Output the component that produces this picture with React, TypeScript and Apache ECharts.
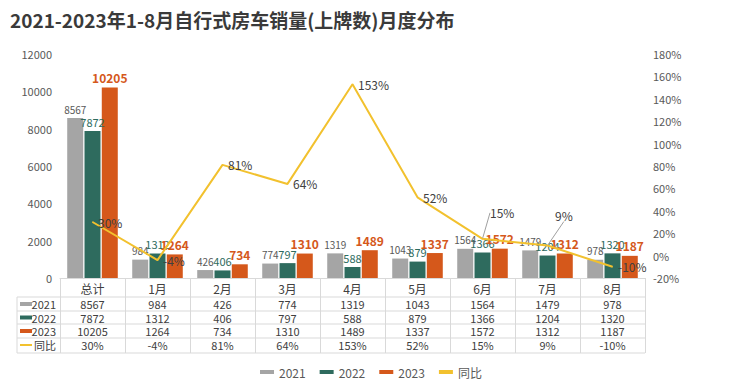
import React, { useEffect, useRef } from "react";
import * as echarts from "echarts";

const title = "2021-2023年1-8月自行式房车销量(上牌数)月度分布";
const categories = ["总计", "1月", "2月", "3月", "4月", "5月", "6月", "7月", "8月"];
const seriesNames = ["2021", "2022", "2023", "同比"];
const sales2021 = [8567, 984, 426, 774, 1319, 1043, 1564, 1479, 978];
const sales2022 = [7872, 1312, 406, 797, 588, 879, 1366, 1204, 1320];
const sales2023 = [10205, 1264, 734, 1310, 1489, 1337, 1572, 1312, 1187];
const yoyPct = [30, -4, 81, 64, 153, 52, 15, 9, -10];

const COLORS = ["#a5a5a5", "#2e6b5e", "#d5581b", "#f2c12e"];
const FONT = "'Noto Sans CJK SC', 'Noto Sans', sans-serif";

// table geometry (styling only)
const GRID_LEFT = 60;
const GRID_RIGHT_X = 645;
const AXIS_Y = 278;
const ROW_LINES = [297, 311, 324, 338, 353];
const ROW_CENTERS = [304, 317.5, 331, 345];
const ROW_OFFSETS = [19, 33, 46, 60];

export default function App() {
  const ref = useRef<HTMLDivElement>(null);
  useEffect(() => {
    document.body.style.margin = "0";
    if (!ref.current) return;
    const chart = echarts.init(ref.current, null, { renderer: "svg" });

    const tableRows = [
      sales2021.map(String),
      sales2022.map(String),
      sales2023.map(String),
      yoyPct.map((v) => `${v}%`),
    ];

    const tableAxes = tableRows.map((vals, i) => ({
      type: "category",
      gridIndex: 0,
      position: "bottom",
      offset: ROW_OFFSETS[i],
      data: vals,
      axisLine: { show: false },
      axisTick: { show: false },
      axisLabel: {
        interval: 0,
        margin: 1,
        color: "#404040",
        fontSize: 11,
        fontFamily: FONT,
      },
    }));

    const graphics: any[] = [
      {
        type: "text",
        left: 10,
        top: 10,
        style: {
          text: title,
          fontSize: 19,
          fontWeight: "bold",
          fill: "#3a3a3a",
          fontFamily: FONT,
        },
      },
    ];
    ROW_LINES.forEach((y) => {
      graphics.push({
        type: "line",
        shape: { x1: 17, y1: y, x2: GRID_RIGHT_X, y2: y },
        style: { stroke: "#d9d9d9", lineWidth: 1 },
        silent: true,
      });
    });
    graphics.push({
      type: "line",
      shape: { x1: 17, y1: ROW_LINES[0], x2: 17, y2: ROW_LINES[ROW_LINES.length - 1] },
      style: { stroke: "#d9d9d9", lineWidth: 1 },
      silent: true,
    });
    seriesNames.forEach((name, i) => {
      const cy = ROW_CENTERS[i];
      const h = i === 3 ? 2 : 4;
      graphics.push({
        type: "rect",
        shape: { x: 20, y: cy - h / 2, width: 12, height: h },
        style: { fill: COLORS[i] },
        silent: true,
      });
      graphics.push({
        type: "text",
        x: 56,
        y: cy,
        style: {
          text: name,
          align: "right",
          verticalAlign: "middle",
          fontSize: 11,
          fill: "#404040",
          fontFamily: FONT,
        },
        silent: true,
      });
    });

    const barLabel = (color: string, size: number, bold: boolean) => ({
      show: true,
      position: "top",
      distance: 4,
      color,
      fontSize: size,
      fontWeight: bold ? "bold" : "normal",
      fontFamily: FONT,
    });

    const lineData = yoyPct.map((v, i) =>
      i === 6 || i === 7
        ? { value: v, labelLine: { show: true, lineStyle: { color: "#a0a0a0", width: 1 } } }
        : { value: v }
    );

    chart.setOption({
      animation: false,
      textStyle: { fontFamily: FONT },
      grid: { left: GRID_LEFT, right: 729 - GRID_RIGHT_X, top: 54, bottom: 392 - AXIS_Y, containLabel: false },
      legend: {
        left: 255,
        top: 361,
        itemWidth: 14,
        itemHeight: 4,
        itemGap: 14,
        textStyle: { color: "#595959", fontSize: 12, fontFamily: FONT },
        data: seriesNames.map((n) => ({ name: n, icon: "rect" })),
      },
      xAxis: [
        {
          type: "category",
          data: categories,
          axisLine: { show: true, lineStyle: { color: "#d9d9d9" } },
          axisTick: { show: true, inside: false, length: 75, lineStyle: { color: "#d9d9d9" } },
          axisLabel: { interval: 0, margin: 4, color: "#404040", fontSize: 12, fontFamily: FONT },
        },
        ...tableAxes,
      ],
      yAxis: [
        {
          type: "value",
          min: 0,
          max: 12000,
          interval: 2000,
          splitLine: { show: false },
          axisLine: { show: false },
          axisTick: { show: false },
          axisLabel: {
            margin: 8,
            color: "#595959",
            fontSize: 11,
            formatter: (v: number) => String(v),
          },
        },
        {
          type: "value",
          min: -20,
          max: 180,
          interval: 20,
          splitLine: { show: false },
          axisLine: { show: false },
          axisTick: { show: false },
          axisLabel: { margin: 8, color: "#595959", fontSize: 11, formatter: "{value}%" },
        },
      ],
      series: [
        {
          name: seriesNames[0],
          type: "bar",
          data: sales2021,
          barWidth: 16,
          barGap: "8%",
          itemStyle: { color: COLORS[0] },
          label: barLabel("#595959", 10, false),
        },
        {
          name: seriesNames[1],
          type: "bar",
          data: sales2022,
          barWidth: 16,
          barGap: "8%",
          itemStyle: { color: COLORS[1] },
          label: barLabel("#2e6b5e", 11, false),
        },
        {
          name: seriesNames[2],
          type: "bar",
          data: sales2023,
          barWidth: 16,
          barGap: "8%",
          itemStyle: { color: COLORS[2] },
          label: barLabel("#d5581b", 12, true),
        },
        {
          name: seriesNames[3],
          type: "line",
          yAxisIndex: 1,
          data: lineData,
          symbol: "circle",
          symbolSize: 1,
          showSymbol: true,
          z: 5,
          lineStyle: { color: COLORS[3], width: 2 },
          itemStyle: { color: COLORS[3] },
          label: {
            show: true,
            position: "right",
            distance: 5,
            color: "#404040",
            fontSize: 12,
            formatter: (p: any) => `${p.value}%`,
          },
          labelLine: { show: false },
          labelLayout: (p: any) => {
            if (p.dataIndex === 6) return { dx: 2, dy: -26 };
            if (p.dataIndex === 7) return { dx: 2, dy: -30 };
            return {};
          },
        },
      ],
      graphic: graphics,
    });
    return () => chart.dispose();
  }, []);
  return <div ref={ref} style={{ width: 729, height: 392 }} />;
}
